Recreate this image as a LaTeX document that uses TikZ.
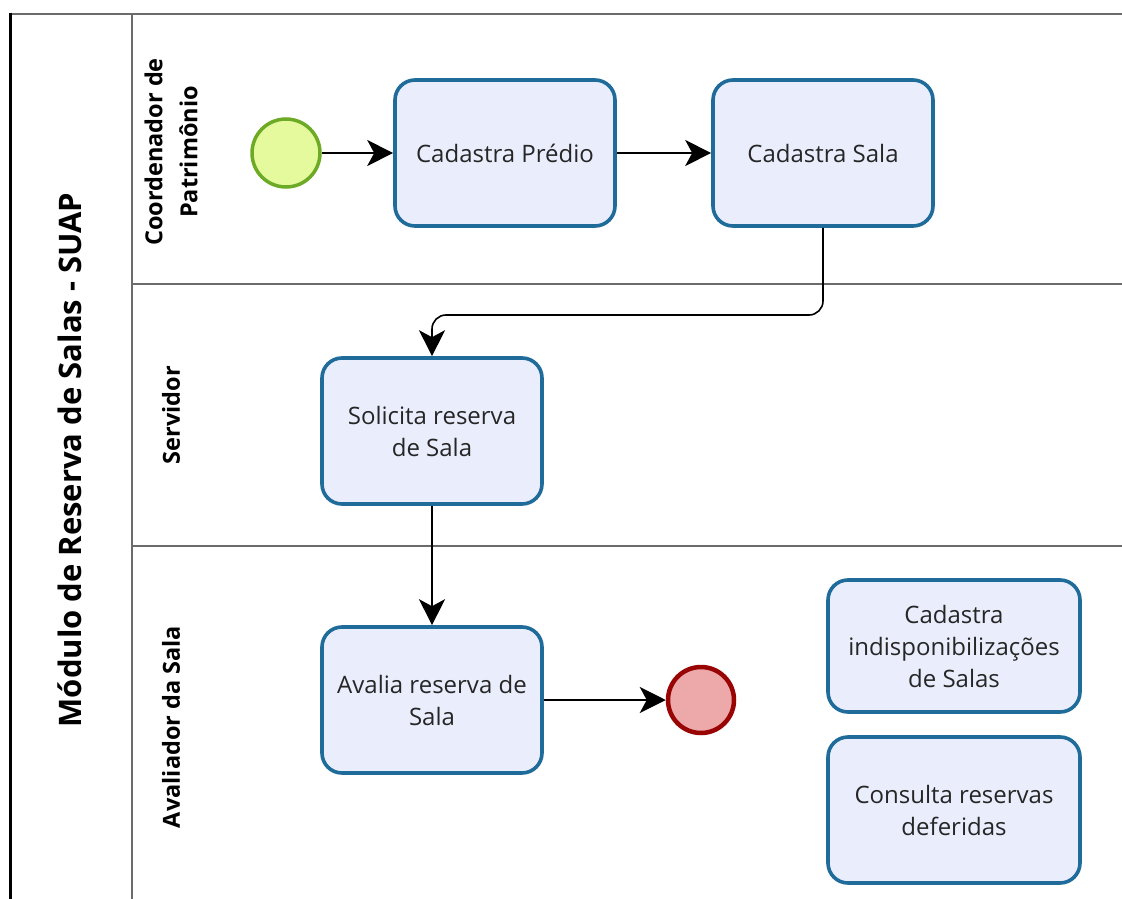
\documentclass[tikz,border=0pt]{standalone}
\usepackage{fontspec}
\setmainfont{Open Sans}
\usetikzlibrary{arrows.meta, positioning}
\definecolor{taskblue}{HTML}{1F6B9A}
\definecolor{taskfill}{HTML}{EAEEFC}
\definecolor{startgreen}{HTML}{6DAA25}
\definecolor{startfill}{HTML}{E4FA9C}
\definecolor{endred}{HTML}{990404}
\definecolor{endfill}{HTML}{EDA9A9}
\definecolor{lanegray}{HTML}{6B6B6B}

\begin{document}
\begin{tikzpicture}[x=1pt, y=-1pt]
\tikzstyle{task} = [rectangle, rounded corners=20pt, minimum width=220pt, minimum height=146pt, align=center, draw=taskblue, line width=3.6pt, fill=taskfill, font=\fontsize{24}{32}\selectfont, text=black!85]
\tikzstyle{startevent} = [circle, minimum size=68pt, draw=startgreen, line width=3.5pt, fill=startfill]
\tikzstyle{endevent} = [circle, minimum size=66pt, draw=endred, line width=4.5pt, fill=endfill]
\tikzstyle{flow} = [-{Stealth[length=26pt, width=26pt, inset=7pt]}, line width=1.6pt]
\tikzstyle{lanelabel} = [rotate=90, align=center, font=\bfseries\fontsize{23.5}{35}\selectfont]

\useasboundingbox (0,0) rectangle (1122,899);

% pool and lanes
\draw[lanegray, line width=2.5pt] (10,14) -- (1122,14);
\draw[lanegray, line width=2.5pt] (132,14) -- (132,899);
\draw[lanegray, line width=2.5pt] (132,284) -- (1122,284);
\draw[lanegray, line width=2.5pt] (132,546) -- (1122,546);
\draw[black, line width=3pt] (10,12.75) -- (10,899);

\node (pool) [rotate=90, font=\bfseries\fontsize{31}{36}\selectfont] at (70,460) {Módulo de Reserva de Salas - SUAP};
\node (coord) [lanelabel] at (171,152) {Coordenador de\\Patrimônio};
\node (serv) [lanelabel] at (171,415) {Servidor};
\node (aval) [lanelabel] at (171,727) {Avaliador da Sala};

% flow elements
\node (start) [startevent] at (286,153) {};
\node (predio) [task] at (505,153) {Cadastra Prédio};
\node (sala) [task] at (823,153) {Cadastra Sala};
\node (solicita) [task] at (432,431) {Solicita reserva\\de Sala};
\node (avalia) [task] at (432,700) {Avalia reserva de\\Sala};
\node (fim) [endevent] at (701,700) {};
\node (indisp) [task, minimum width=252pt, minimum height=132pt] at (954,646) {Cadastra\\indisponibilizações\\de Salas};
\node (consulta) [task, minimum width=252pt] at (954,810) {Consulta reservas\\deferidas};

\coordinate (bend) at (823,315);

\draw[flow] (start) -- (predio);
\draw[flow] (predio) -- (sala);
\draw[flow, rounded corners=14pt] (sala.south) -- (bend) -| (solicita.north);
\draw[flow] (solicita) -- (avalia);
\draw[flow] (avalia) -- (fim);

\end{tikzpicture}
\end{document}
